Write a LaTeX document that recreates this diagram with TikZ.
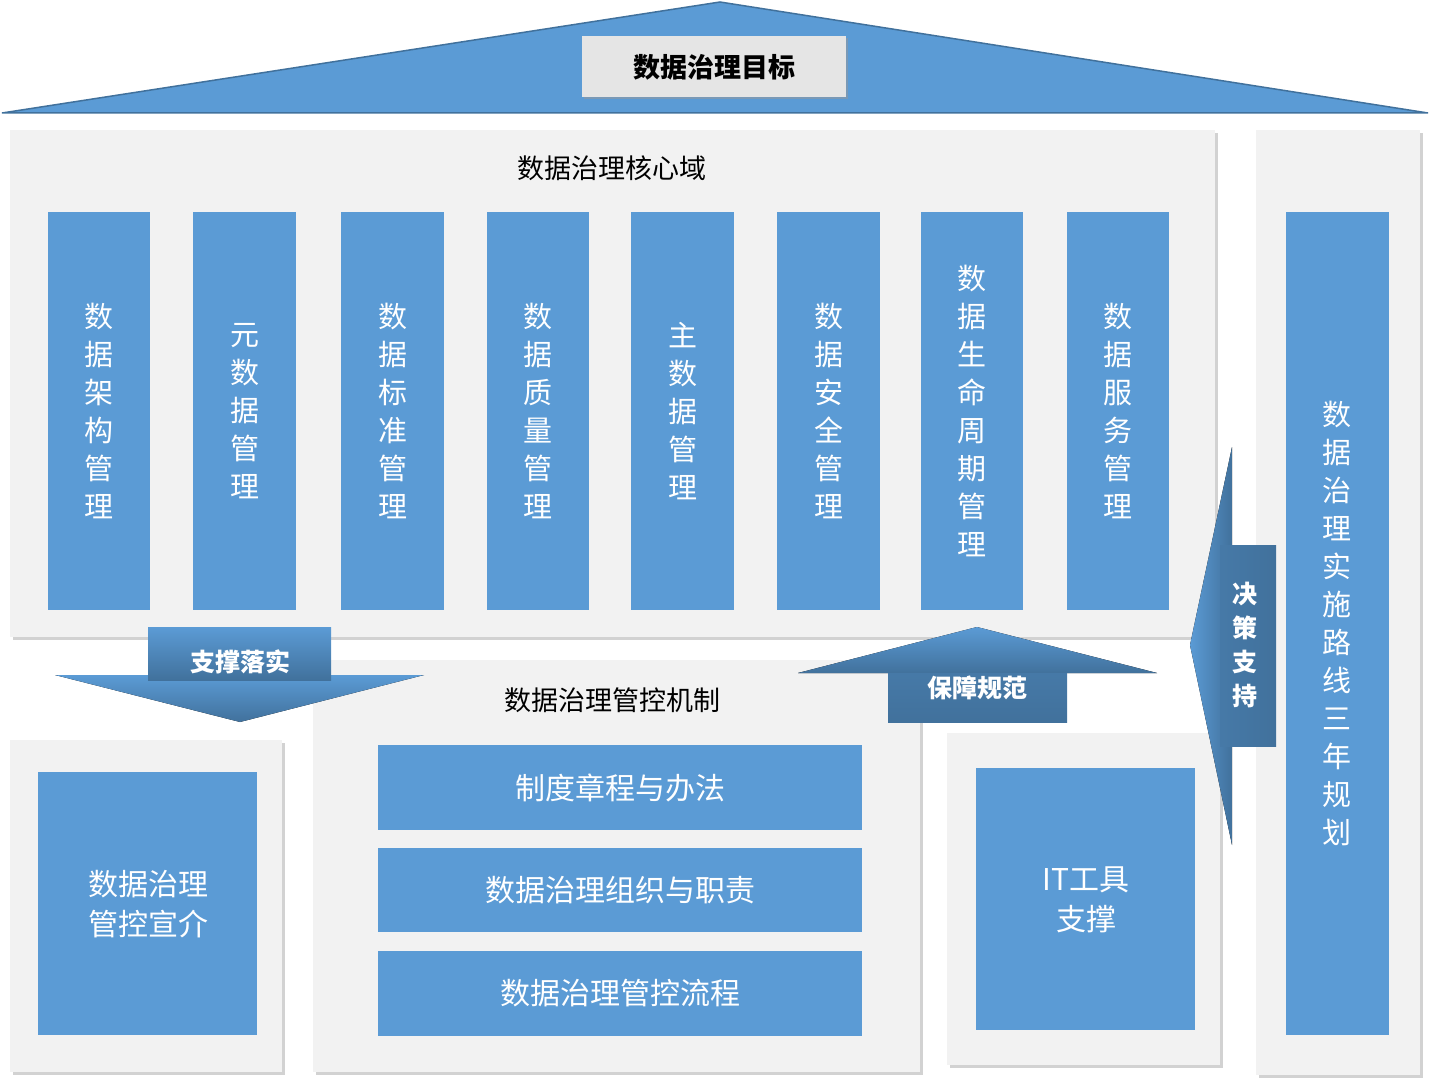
\documentclass[tikz,border=0pt]{standalone}
\usepackage{fontspec}
\setmainfont{Noto Sans CJK SC}
\usetikzlibrary{shadows}
\definecolor{bl}{HTML}{5B9BD5}
\definecolor{dbl}{HTML}{41719C}
\definecolor{pg}{HTML}{F2F2F2}
\begin{document}
\begin{tikzpicture}[x=1pt,y=-1pt,
 panel/.style={fill=pg,draw=none,drop shadow={shadow xshift=3pt,shadow yshift=-3pt,fill=black!35}},
 col/.style={fill=bl,draw=none,text=white},
 arr/.style={top color=bl,bottom color=dbl,draw=none},
 vt/.style={align=center,text=white,font=\fontsize{29}{38}\selectfont}]
\useasboundingbox (0,0) rectangle (1433,1086);
% roof
\draw[fill=bl,draw=dbl,line width=1.5pt] (2,113) -- (720,2) -- (1428,113) -- cycle;
\node[fill=white!90!black,draw=none,minimum width=264pt,minimum height=61pt,font=\bfseries\fontsize{27}{30}\selectfont,drop shadow={shadow xshift=2pt,shadow yshift=-2pt,fill=black!40}] (goal) at (714,67) {数据治理目标};
% core panel
\fill[panel] (10,130) rectangle (1215,637);
\node[font=\fontsize{27}{30}\selectfont] (coret) at (612,168) {数据治理核心域};
\foreach \xa/\xb/\t [count=\i] in {48/150/{数\\据\\架\\构\\管\\理},193/296/{元\\数\\据\\管\\理},341/444/{数\\据\\标\\准\\管\\理},487/589/{数\\据\\质\\量\\管\\理},631/734/{主\\数\\据\\管\\理},777/880/{数\\据\\安\\全\\管\\理},921/1023/{数\\据\\生\\命\\周\\期\\管\\理},1067/1169/{数\\据\\服\\务\\管\\理}}{
 \fill[col] (\xa,212) rectangle (\xb,610);
 \node[vt] (c\i) at ({(\xa+\xb)/2},411) {\t};
}
% right panel
\fill[panel] (1256,130) rectangle (1420,1075);
\fill[col] (1286,212) rectangle (1389,1035);
\node[vt] (plan) at (1337,623) {数\\据\\治\\理\\实\\施\\路\\线\\三\\年\\规\\划};
% bottom left
\fill[panel] (10,740) rectangle (282,1072);
\fill[col] (38,772) rectangle (257,1035);
\node[vt,font=\fontsize{30}{40}\selectfont] (xj) at (148,904) {数据治理\\管控宣介};
% middle
\fill[panel] (313,660) rectangle (920,1072);
\node[font=\fontsize{27}{30}\selectfont] (mt) at (612,700) {数据治理管控机制};
\foreach \ya/\yb/\t [count=\i] in {745/830/制度章程与办法,848/932/数据治理组织与职责,951/1036/数据治理管控流程}{
 \fill[col] (378,\ya) rectangle (862,\yb);
 \node[text=white,font=\fontsize{30}{34}\selectfont] (m\i) at (620,{(\ya+\yb)/2}) {\t};
}
% IT
\fill[panel] (947,733) rectangle (1220,1065);
\fill[col] (976,768) rectangle (1195,1030);
\node[vt,font=\fontsize{30}{40}\selectfont] (it) at (1086,900) {IT工具\\支撑};
% arrows
\fill[arr] (55,675) -- (424,675) -- (240,722) -- cycle;
\fill[arr] (148,627) rectangle (331,680);
\node[text=white,font=\bfseries\fontsize{25}{28}\selectfont] (a1) at (240,662) {支撑落实};
\fill[arr] (798,673) -- (977,627) -- (1157,673) -- cycle;
\fill[top color=dbl!80!bl,bottom color=dbl] (888,673) rectangle (1067,722);
\node[text=white,font=\bfseries\fontsize{25}{28}\selectfont] (a2) at (977,688) {保障规范};
\fill[left color=bl,right color=dbl] (1232,447) -- (1190,645) -- (1232,845) -- cycle;
\fill[left color=dbl!80!bl,right color=dbl] (1220,545) rectangle (1276,746);
\node[align=center,text=white,font=\bfseries\fontsize{25}{34}\selectfont] (a3) at (1245,645) {决\\策\\支\\持};
\end{tikzpicture}
\end{document}
